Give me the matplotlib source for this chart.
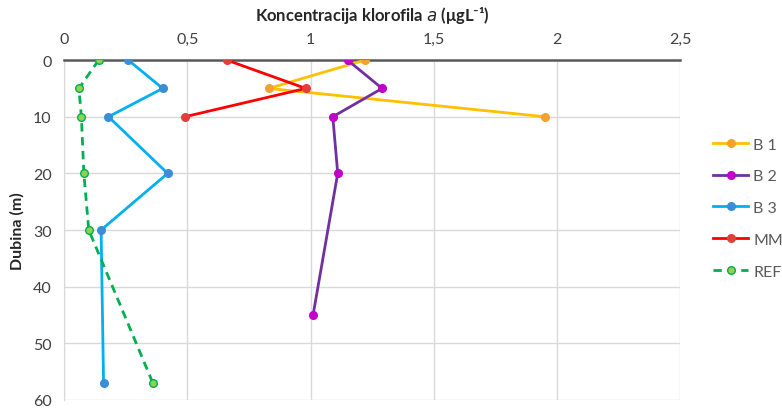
import matplotlib.pyplot as plt
from matplotlib.ticker import FixedLocator

plt.rcParams['font.family'] = ['Lato', 'DejaVu Sans']

# depth (m) and chlorophyll a concentration (ugL-1) per station
b1_depth = [0, 5, 10]
b1_chl = [1.22, 0.83, 1.95]
b2_depth = [0, 5, 10, 20, 45]
b2_chl = [1.15, 1.29, 1.09, 1.11, 1.01]
b3_depth = [0, 5, 10, 20, 30, 57]
b3_chl = [0.26, 0.40, 0.18, 0.42, 0.15, 0.16]
mm_depth = [0, 5, 10]
mm_chl = [0.66, 0.98, 0.49]
ref_depth = [0, 5, 10, 20, 30, 57]
ref_chl = [0.14, 0.06, 0.07, 0.08, 0.10, 0.36]

x_ticks = [0, 0.5, 1, 1.5, 2, 2.5]
x_labels = ['0', '0,5', '1', '1,5', '2', '2,5']
y_ticks = [0, 10, 20, 30, 40, 50, 60]

fig = plt.figure(figsize=(7.82, 4.10), dpi=100)
ax = fig.add_axes([0.082, 0.022, 0.788, 0.829])

ax.plot(b1_chl, b1_depth, color='#FFC000', lw=2, marker='o', ms=5.5,
        mfc='#F4A12E', mec='#F4A12E', label='B 1', zorder=3)
ax.plot(b2_chl, b2_depth, color='#7030A0', lw=2, marker='o', ms=5.5,
        mfc='#C000C8', mec='#C000C8', label='B 2', zorder=3)
ax.plot(b3_chl, b3_depth, color='#00B0F0', lw=2, marker='o', ms=5.5,
        mfc='#3A8ED6', mec='#3A8ED6', label='B 3', zorder=3)
ax.plot(mm_chl, mm_depth, color='#FF0000', lw=2, marker='o', ms=5.5,
        mfc='#E0403C', mec='#E0403C', label='MM', zorder=3)
ax.plot(ref_chl, ref_depth, color='#00B050', lw=2, ls=(0, (3, 2)), marker='o', ms=5.5,
        mfc='#92D050', mec='#00B050', mew=1, label='REF', zorder=3)

ax.set_xlim(0, 2.5)
ax.set_ylim(60, 0)
ax.xaxis.set_major_locator(FixedLocator(x_ticks))
ax.set_xticklabels(x_labels)
ax.set_yticks(y_ticks)
ax.xaxis.tick_top()
ax.xaxis.set_label_position('top')
ax.tick_params(length=0, labelsize=11.5, colors='#404040')
ax.tick_params(axis='x', pad=10)
ax.tick_params(axis='y', pad=9)

ax.grid(True, color='#D9D9D9', lw=1)
ax.set_axisbelow(True)
for s in ['right', 'bottom']:
    ax.spines[s].set_visible(False)
ax.spines['left'].set_color('#D9D9D9')
ax.spines['top'].set_color('#595959')
ax.spines['top'].set_linewidth(1.8)
ax.spines['top'].set_zorder(2.5)

ax.set_xlabel('Koncentracija klorofila $\\it{a}$ (μgL⁻¹)', fontsize=12,
              fontweight='bold', color='#262626', labelpad=9)
ax.set_ylabel('Dubina (m)', fontsize=11.5, fontweight='bold', color='#262626', labelpad=6)

leg = ax.legend(loc='upper left', bbox_to_anchor=(1.03, 0.815), frameon=False,
                fontsize=11.5, handlelength=2.2, labelspacing=1.1, handletextpad=0.3)
for t in leg.get_texts():
    t.set_color('#595959')

fig.savefig('out.png', dpi=100)
